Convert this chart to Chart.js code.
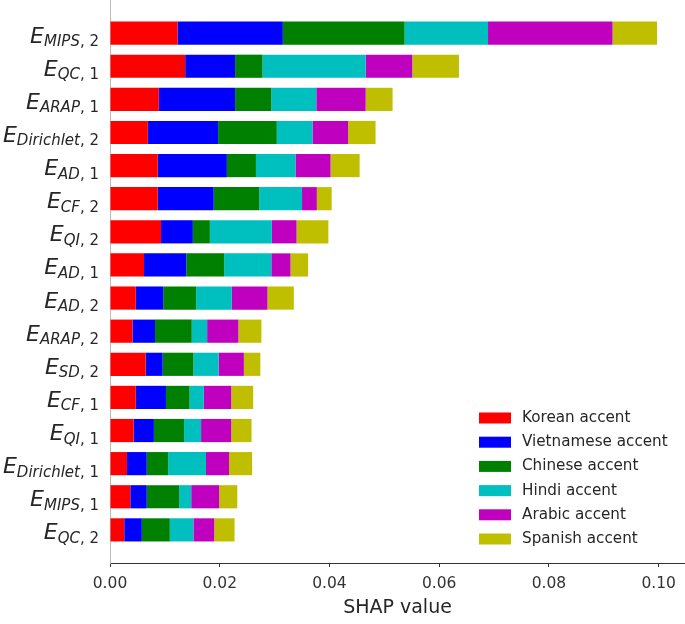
<!DOCTYPE html>
<html>
<head>
<meta charset="utf-8">
<script src="https://cdn.jsdelivr.net/npm/chart.js@4/dist/chart.umd.min.js"></script>
<style>
  html, body { margin: 0; padding: 0; background: #fff; }
  #wrap { width: 685px; height: 624px; }
</style>
</head>
<body>
<div id="wrap"><canvas id="shapChart" width="685" height="624"></canvas></div>
<script>
// energy terms, top to bottom: E_{name, index}
const termNames = ['MIPS', 'QC', 'ARAP', 'Dirichlet', 'AD', 'CF', 'QI', 'AD', 'AD', 'ARAP', 'SD', 'CF', 'QI', 'Dirichlet', 'MIPS', 'QC'];
const termIndex = [2, 1, 1, 2, 1, 2, 2, 1, 2, 2, 2, 1, 1, 1, 1, 2];

const accents = ['Korean accent', 'Vietnamese accent', 'Chinese accent', 'Hindi accent', 'Arabic accent', 'Spanish accent'];
const accentColors = ['#ff0000', '#0000ff', '#008000', '#00bfbf', '#bf00bf', '#bfbf00'];

// mean |SHAP| per accent, same order as termNames
const korean     = [0.0123, 0.0137, 0.0089, 0.0069, 0.0087, 0.0087, 0.0093, 0.0062, 0.0047, 0.0041, 0.0065, 0.0047, 0.0043, 0.0031, 0.0037, 0.0026];
const vietnamese = [0.0192, 0.0091, 0.0139, 0.0128, 0.0126, 0.0102, 0.0058, 0.0077, 0.0050, 0.0041, 0.0031, 0.0055, 0.0037, 0.0036, 0.0030, 0.0032];
const chinese    = [0.0222, 0.0050, 0.0066, 0.0107, 0.0053, 0.0083, 0.0031, 0.0069, 0.0060, 0.0067, 0.0056, 0.0043, 0.0055, 0.0039, 0.0059, 0.0051];
const hindi      = [0.0152, 0.0188, 0.0082, 0.0065, 0.0072, 0.0078, 0.0113, 0.0086, 0.0065, 0.0028, 0.0046, 0.0026, 0.0031, 0.0069, 0.0022, 0.0043];
const arabic     = [0.0227, 0.0085, 0.0090, 0.0065, 0.0064, 0.0027, 0.0045, 0.0035, 0.0065, 0.0057, 0.0046, 0.0050, 0.0055, 0.0042, 0.0051, 0.0038];
const spanish    = [0.0081, 0.0085, 0.0049, 0.0050, 0.0053, 0.0027, 0.0058, 0.0032, 0.0048, 0.0042, 0.0030, 0.0040, 0.0037, 0.0042, 0.0033, 0.0037];

const xTicks = [0, 0.02, 0.04, 0.06, 0.08, 0.10];

const seriesValues = [korean, vietnamese, chinese, hindi, arabic, spanish];

const datasets = accents.map((name, k) => ({
  label: name,
  data: seriesValues[k].map((v, i) => ({ x: v, y: i })),
  backgroundColor: accentColors[k],
  borderWidth: 0,
  barPercentage: 0.7,
  categoryPercentage: 1.0
}));

// y labels drawn as E with a subscript, like mathtext
const termLabels = {
  id: 'termLabels',
  afterDraw(chart) {
    const ctx = chart.ctx;
    const ys = chart.scales.y;
    ctx.save();
    ctx.fillStyle = '#262626';
    ctx.textBaseline = 'alphabetic';
    ctx.textAlign = 'left';
    const bigFont = 'italic 22px "DejaVu Sans"';
    const subFont = 'italic 15px "DejaVu Sans"';
    const tailFont = '15px "DejaVu Sans"';
    termNames.forEach((name, i) => {
      const cy = ys.getPixelForValue(i);
      const tail = ', ' + termIndex[i];
      ctx.font = bigFont;  const wE = ctx.measureText('E').width;
      ctx.font = subFont;  const wS = ctx.measureText(name).width;
      ctx.font = tailFont; const wT = ctx.measureText(tail).width;
      let x = 99 - (wE + wS + wT);
      ctx.font = bigFont;  ctx.fillText('E', x, cy + 9.5); x += wE;
      ctx.font = subFont;  ctx.fillText(name, x, cy + 13); x += wS;
      ctx.font = tailFont; ctx.fillText(tail, x, cy + 13);
    });
    ctx.restore();
  }
};

// legend in the lower right corner of the plot
const cornerLegend = {
  id: 'cornerLegend',
  afterDraw(chart) {
    const ctx = chart.ctx;
    ctx.save();
    ctx.font = '15.2px "DejaVu Sans"';
    ctx.textBaseline = 'middle';
    ctx.textAlign = 'left';
    chart.data.datasets.forEach((ds, k) => {
      const cy = 418 + k * 24.2;
      ctx.fillStyle = ds.backgroundColor;
      ctx.fillRect(479, cy - 5.5, 32, 11);
      ctx.fillStyle = '#262626';
      ctx.fillText(ds.label, 522, cy);
    });
    ctx.restore();
  }
};

new Chart(document.getElementById('shapChart'), {
  type: 'bar',
  data: { datasets: datasets },
  plugins: [termLabels, cornerLegend],
  options: {
    indexAxis: 'y',
    responsive: false,
    animation: false,
    layout: { padding: 0 },
    plugins: {
      legend: { display: false },
      tooltip: { enabled: false }
    },
    scales: {
      x: {
        type: 'linear',
        stacked: true,
        min: 0,
        max: 0.1048,
        afterFit: s => { s.height = 61; },
        afterBuildTicks: s => { s.ticks = xTicks.map(v => ({ value: v })); },
        border: { display: true, color: '#333', width: 1 },
        grid: { display: true, drawOnChartArea: false, drawTicks: true, tickLength: 4, tickColor: '#333' },
        ticks: {
          padding: 8,
          color: '#333',
          font: { family: 'DejaVu Sans', size: 15.5 },
          callback: v => v.toFixed(2)
        },
        title: {
          display: true,
          text: 'SHAP value',
          color: '#262626',
          font: { family: 'DejaVu Sans', size: 19 },
          padding: { top: 0, bottom: 5 }
        }
      },
      y: {
        type: 'linear',
        stacked: true,
        reverse: true,
        offset: false,
        min: -1,
        max: 16,
        afterFit: s => { s.width = 110; },
        afterBuildTicks: s => { s.ticks = termNames.map((n, i) => ({ value: i })); },
        border: { display: true, color: '#bbb', width: 1 },
        grid: { display: false, offset: false },
        ticks: { display: false }
      }
    }
  }
});
</script>
</body>
</html>
